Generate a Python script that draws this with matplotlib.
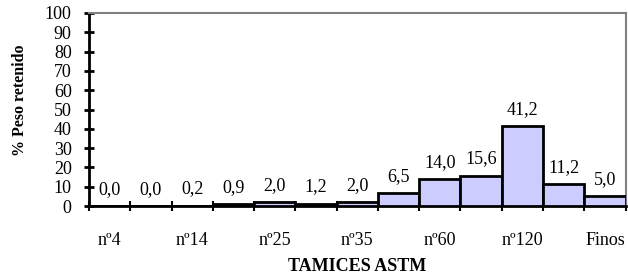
import matplotlib.pyplot as plt
import numpy as np

# data
valores = [0.0, 0.0, 0.2, 0.9, 2.0, 1.2, 2.0, 6.5, 14.0, 15.6, 41.2, 11.2, 5.0]
etiquetas = ['nº4', 'nº14', 'nº25', 'nº35', 'nº60', 'nº120', 'Finos']
yticks = list(range(0, 101, 10))

plt.rcParams['font.family'] = ['Liberation Serif', 'DejaVu Serif']

fig = plt.figure(figsize=(6.28, 2.76), dpi=100)
ax = fig.add_axes([0.1417, 0.2536, 0.8545, 0.6993])

x = np.arange(len(valores))
ax.bar(x, valores, width=1.0, color='#ccccff', edgecolor='black', linewidth=2, zorder=3)

for xi, v in zip(x, valores):
    ax.annotate(f'{v:.1f}'.replace('.', ','), (xi, v), xytext=(0, 6),
                textcoords='offset points', ha='center', va='bottom', fontsize=13)

ax.set_xlim(-0.5, len(valores) - 0.5)
ax.set_ylim(0, 100)
ax.set_yticks(yticks)
ax.set_yticklabels([str(t) for t in yticks], fontsize=13)

# labels on every other bar, tick marks at bar boundaries
ax.set_xticks(x[::2])
ax.set_xticklabels(etiquetas, fontsize=13)
ax.set_xticks(np.arange(len(valores) + 1) - 0.5, minor=True)
ax.tick_params(axis='x', which='major', length=0, pad=19)
ax.tick_params(axis='x', which='minor', direction='inout', length=7, width=1.5)
ax.tick_params(axis='y', direction='inout', length=7, width=2, pad=9)

ax.spines['left'].set_linewidth(2)
ax.spines['bottom'].set_linewidth(2)
ax.spines['top'].set_color('#808080')
ax.spines['right'].set_color('#808080')
ax.spines['top'].set_linewidth(1.5)
ax.spines['right'].set_linewidth(1.5)

ax.set_ylabel('% Peso retenido', fontsize=11.5, fontweight='bold')
ax.yaxis.set_label_coords(-0.113, 0.55)
ax.set_xlabel('TAMICES ASTM', fontsize=13, fontweight='bold', labelpad=6)

fig.savefig('out.png', dpi=100)
